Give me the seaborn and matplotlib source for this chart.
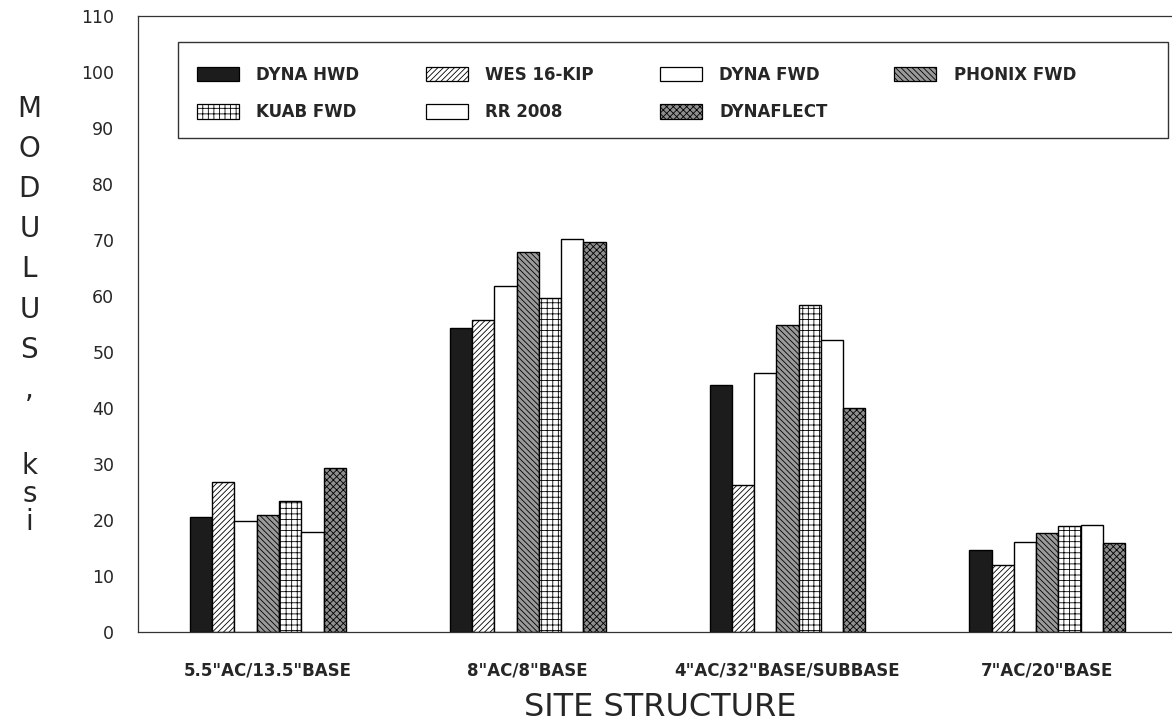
import pandas as pd
import numpy as np
import matplotlib
matplotlib.use("Agg")
import matplotlib.pyplot as plt
import seaborn as sns
from matplotlib.patches import Patch, Rectangle

# Site structures (x axis)
sites = ['5.5"AC/13.5"BASE', '8"AC/8"BASE', '4"AC/32"BASE/SUBBASE', '7"AC/20"BASE']

# Devices (hue)
devices = ['DYNA HWD', 'WES 16-KIP', 'DYNA FWD', 'PHONIX FWD', 'KUAB FWD', 'RR 2008', 'DYNAFLECT']

# Backcalculated modulus, ksi, one list per device (site order as above)
dyna_hwd = [20.6, 54.3, 44.1, 14.6]
wes_16kip = [26.7, 55.7, 26.2, 12.0]
dyna_fwd = [19.9, 61.8, 46.3, 16.1]
phonix_fwd = [20.9, 67.8, 54.8, 17.7]
kuab_fwd = [23.4, 59.7, 58.4, 18.9]
rr_2008 = [17.8, 70.2, 52.1, 19.1]
dynaflect = [29.2, 69.7, 40.0, 15.9]

values = [dyna_hwd, wes_16kip, dyna_fwd, phonix_fwd, kuab_fwd, rr_2008, dynaflect]

rows = []
for dev, vals in zip(devices, values):
    for s, v in zip(sites, vals):
        rows.append({'site': s, 'device': dev, 'modulus': v})
df = pd.DataFrame(rows)

# look of each bar series (face colour, hatch)
styles = {
    'DYNA HWD': ('#1c1c1c', ''),
    'WES 16-KIP': ('white', '//////'),
    'DYNA FWD': ('white', ''),
    'PHONIX FWD': ('#9a9a9a', '\\\\\\\\\\\\'),
    'KUAB FWD': ('white', '+++'),
    'RR 2008': ('white', ''),
    'DYNAFLECT': ('#8f8f8f', 'xxxxx'),
}

sns.set_style("white")
plt.rcParams['font.family'] = ['DejaVu Sans']
plt.rcParams['hatch.linewidth'] = 0.6

fig = plt.figure(figsize=(11.72, 7.28), dpi=100)
ax = fig.add_axes([0.1177, 0.1319, 0.8823, 0.8461])

sns.barplot(data=df, x='site', y='modulus', hue='device', hue_order=devices,
            order=sites, width=0.6, gap=0, palette=['white'] * 7,
            edgecolor='black', linewidth=1.0, legend=False, ax=ax)

for dev, cont in zip(devices, ax.containers):
    fc, hatch = styles[dev]
    for bar in cont:
        bar.set_facecolor(fc)
        bar.set_hatch(hatch)
        bar.set_edgecolor('black')

ax.set_ylim(0, 110)
ax.set_xlim(-0.5, 3.48)
ax.set_yticks(np.arange(0, 111, 10))
ax.tick_params(axis='both', direction='out', length=8, width=0.8, color='#444')
ax.tick_params(axis='y', labelsize=12.5, pad=9)
ax.tick_params(axis='x', labelsize=12, pad=13)
ax.set_xlabel('')
ax.set_ylabel('')
for t in ax.get_xticklabels():
    t.set_fontweight('bold')

for side in ['left', 'bottom', 'top']:
    ax.spines[side].set_visible(True)
    ax.spines[side].set_color('#333')
    ax.spines[side].set_linewidth(0.9)
ax.spines['right'].set_visible(False)

# legend: row-major order with 4 columns, frame drawn separately
handles = {d: Patch(facecolor=styles[d][0], hatch=styles[d][1], edgecolor='black', linewidth=0.9)
           for d in devices}
order = ['DYNA HWD', 'KUAB FWD', 'WES 16-KIP', 'RR 2008', 'DYNA FWD', 'DYNAFLECT', 'PHONIX FWD']
leg = ax.legend([handles[d] for d in order], order, ncol=4, loc='upper left',
                bbox_to_anchor=(0.0571, 0.9188), frameon=False,
                prop={'size': 12, 'weight': 'bold'},
                handlelength=2.5, handleheight=0.95, columnspacing=4.0,
                handletextpad=1.05, borderpad=0, borderaxespad=0, labelspacing=1.15)
ax.add_patch(Rectangle((0.0387, 0.8019), 0.9574, 0.1559, transform=ax.transAxes,
                       fill=False, edgecolor='#333', linewidth=1.0, clip_on=False))

# stacked y label
fig.text(0.025, 1 - 95 / 728, '\n'.join('MODULUS,'), ha='center', va='top',
         fontsize=20, linespacing=1.55)
fig.text(0.025, 1 - 452 / 728, '\n'.join('ksi'), ha='center', va='top',
         fontsize=20, linespacing=1.0)
fig.text(0.563, 0.0275, 'SITE STRUCTURE', ha='center', va='center', fontsize=23)

fig.savefig('out.png', dpi=100)
